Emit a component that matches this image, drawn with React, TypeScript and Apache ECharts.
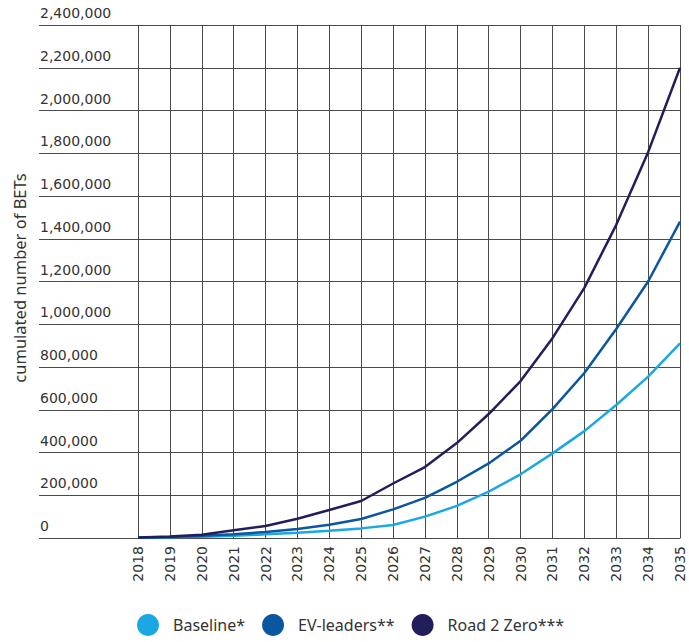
import React, { useEffect, useRef } from "react";
import * as echarts from "echarts";

const years = [
  "2018", "2019", "2020", "2021", "2022", "2023", "2024", "2025", "2026",
  "2027", "2028", "2029", "2030", "2031", "2032", "2033", "2034", "2035",
];

const baseline = [
  1000, 3000, 6000, 10000, 17000, 25000, 34000, 45000, 61000, 100000, 150000,
  217000, 298000, 396000, 500000, 622000, 755000, 910000,
];

const evLeaders = [
  1000, 5000, 10000, 18000, 28000, 42000, 62000, 89000, 134000, 188000, 263000,
  349000, 455000, 603000, 772000, 978000, 1200000, 1480000,
];

const road2Zero = [
  2000, 7000, 15000, 36000, 56000, 90000, 131000, 173000, 255000, 332000,
  444000, 580000, 734000, 935000, 1170000, 1465000, 1805000, 2200000,
];

const seriesNames = ["Baseline*", "EV-leaders**", "Road 2 Zero***"];
const seriesColors = ["#1aa7e3", "#0b56a0", "#221e5c"];

const yMax = 2400000;
const yStep = 200000;

const gridColor = "#4a4a4a";
const labelFont = "DejaVu Sans, Verdana, sans-serif";
const textFont = "Noto Sans, Open Sans, sans-serif";

export default function App() {
  const ref = useRef<HTMLDivElement>(null);

  useEffect(() => {
    if (!ref.current) return;
    const chart = echarts.init(ref.current, undefined, { renderer: "svg" });

    const dataSets = [baseline, evLeaders, road2Zero];

    chart.setOption({
      animation: false,
      backgroundColor: "#ffffff",
      grid: [
        // wide grid: horizontal rules and value labels
        { left: 39, right: 9, top: 25, bottom: 104 },
        // plot grid: year columns and the lines
        { left: 138, right: 9, top: 25, bottom: 104 },
      ],
      xAxis: [
        { gridIndex: 0, type: "value", min: 0, max: 1, show: false },
        {
          gridIndex: 1,
          type: "category",
          data: years,
          boundaryGap: false,
          axisLine: { show: true, lineStyle: { color: gridColor, width: 1 } },
          axisTick: { show: false },
          splitLine: { show: true, lineStyle: { color: gridColor, width: 1 } },
          axisLabel: {
            rotate: 90,
            margin: 8,
            interval: 0,
            color: "#333333",
            fontFamily: labelFont,
            fontSize: 14,
          },
        },
      ],
      yAxis: [
        {
          gridIndex: 0,
          type: "value",
          min: 0,
          max: yMax,
          interval: yStep,
          axisLine: { show: false },
          axisTick: { show: false },
          splitLine: { show: true, lineStyle: { color: gridColor, width: 1 } },
          axisLabel: {
            inside: true,
            margin: 1,
            verticalAlign: "bottom",
            padding: [0, 0, 5, 0],
            color: "#333333",
            fontFamily: labelFont,
            fontSize: 14,
            formatter: (v: number) => v.toLocaleString("en-US"),
          },
        },
        {
          gridIndex: 1,
          type: "value",
          min: 0,
          max: yMax,
          interval: yStep,
          show: false,
          splitLine: { show: false },
        },
      ],
      legend: {
        bottom: 1,
        left: 132,
        icon: "circle",
        itemWidth: 22,
        itemHeight: 22,
        itemGap: 17,
        data: seriesNames,
        textStyle: {
          color: "#333333",
          fontFamily: textFont,
          fontSize: 16,
          padding: [0, 0, 0, 9],
        },
      },
      graphic: [
        {
          type: "text",
          x: 19,
          y: 278,
          rotation: Math.PI / 2,
          style: {
            text: "cumulated number of BETs",
            fill: "#333333",
            font: `16.5px ${textFont}`,
            align: "center",
            verticalAlign: "middle",
          },
        },
      ],
      series: seriesNames.map((name, i) => ({
        name,
        type: "line",
        xAxisIndex: 1,
        yAxisIndex: 1,
        data: dataSets[i],
        symbol: "none",
        smooth: false,
        lineStyle: { color: seriesColors[i], width: 2.5 },
        itemStyle: { color: seriesColors[i] },
      })),
    });

    return () => chart.dispose();
  }, []);

  return (
    <div
      ref={ref}
      style={{ position: "fixed", left: 0, top: 0, width: 689, height: 642 }}
    />
  );
}
